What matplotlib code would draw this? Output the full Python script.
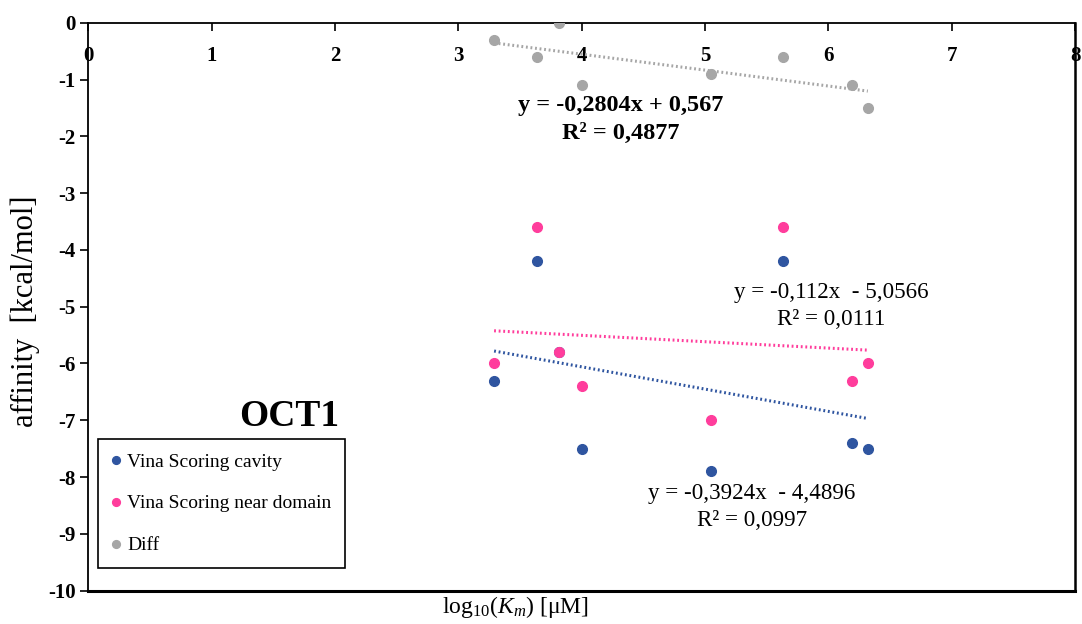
import numpy as np
import matplotlib
matplotlib.use('Agg')
import matplotlib.pyplot as plt

plt.rcParams['font.family'] = ['Liberation Serif', 'DejaVu Serif']
plt.rcParams['mathtext.fontset'] = 'custom'
plt.rcParams['mathtext.rm'] = 'Liberation Serif'
plt.rcParams['mathtext.it'] = 'Liberation Serif:italic'
plt.rcParams['axes.unicode_minus'] = False

# data
log_km = [3.29, 3.64, 3.82, 4.00, 5.05, 5.63, 6.19, 6.32]
cavity = [-6.3, -4.2, -5.8, -7.5, -7.9, -4.2, -7.4, -7.5]
near_domain = [-6.0, -3.6, -5.8, -6.4, -7.0, -3.6, -6.3, -6.0]
diff = [-0.3, -0.6, 0.0, -1.1, -0.9, -0.6, -1.1, -1.5]

c_blue = '#2F55A0'
c_pink = '#FF3D9C'
c_grey = '#A6A6A6'

fig = plt.figure(figsize=(10.82, 6.24), dpi=100)
ax = fig.add_axes([0.0816, 0.0534, 0.912, 0.9102])

x = np.array(log_km)
series = [(cavity, c_blue, 'Vina Scoring cavity'),
          (near_domain, c_pink, 'Vina Scoring near domain'),
          (diff, c_grey, 'Diff')]
for ys, col, lab in series:
    ax.plot(x, ys, 'o', color=col, markersize=7, label=lab, zorder=3)
    k, b = np.polyfit(x, ys, 1)
    xx = np.array([x.min(), x.max()])
    ax.plot(xx, k * xx + b, color=col, linewidth=2.2, linestyle=(0, (0.6, 0.9)), zorder=2)

# trendline labels
ax.text(4.315, -1.7, 'y = -0,2804x + 0,567\nR² = 0,4877', ha='center', va='center',
        fontsize=17.5, fontweight='bold', linespacing=1.4)
ax.text(6.02, -4.99, 'y = -0,112x  - 5,0566\nR² = 0,0111', ha='center', va='center',
        fontsize=16.6, linespacing=1.4)
ax.text(5.38, -8.53, 'y = -0,3924x  - 4,4896\nR² = 0,0997', ha='center', va='center',
        fontsize=16.6, linespacing=1.4)
ax.text(1.63, -6.94, 'OCT1', ha='center', va='center', fontsize=27, fontweight='bold')

ax.set_xlim(0, 8)
ax.set_ylim(-10, 0)
ax.set_xticks(range(0, 9))
ax.set_yticks(range(-10, 1))

ax.xaxis.tick_top()
ax.tick_params(axis='x', direction='in', length=6, width=1.2, labelsize=15, pad=-31)
ax.tick_params(axis='y', direction='out', length=6, width=1.2, labelsize=15, pad=3)
for lab in ax.get_xticklabels() + ax.get_yticklabels():
    lab.set_fontweight('bold')

ax.spines['top'].set_linewidth(1.3)
ax.spines['left'].set_linewidth(1.3)
ax.spines['right'].set_linewidth(1.8)
ax.spines['bottom'].set_linewidth(2.2)

fig.text(0.023, 0.502, 'affinity  [kcal/mol]', rotation=90, ha='center', va='center', fontsize=22)
fig.text(0.476, 0.028, r'log$_{10}$($K_m$) [μM]', ha='center', va='center', fontsize=17)

leg = ax.legend(loc='lower left', bbox_to_anchor=(0.0098, 0.04), borderaxespad=0,
                fontsize=14, frameon=True, fancybox=False, framealpha=1,
                edgecolor='black', handlelength=0.5, handletextpad=0.3,
                labelspacing=1.25, borderpad=0.7, markerscale=0.8)
leg.get_frame().set_linewidth(1.2)

plt.savefig('out.png', dpi=100)
